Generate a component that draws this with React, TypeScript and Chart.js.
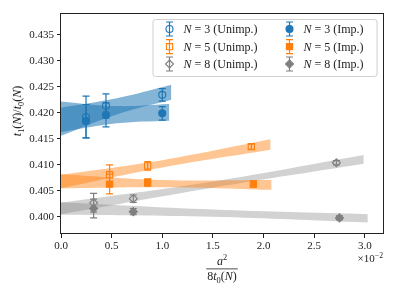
import React, { useEffect, useRef } from 'react';
import { Chart, registerables } from 'chart.js';
Chart.register(...registerables);

// ---------- data ----------
const xTicks = [0.0, 0.5, 1.0, 1.5, 2.0, 2.5, 3.0];
const yTicks = [0.400, 0.405, 0.410, 0.415, 0.420, 0.425, 0.430, 0.435];

const xN3U = [0.247, 0.444, 1.0];
const yN3U = [0.4192, 0.42135, 0.42346];
const eN3U = [0.0040, 0.0023, 0.0012];
const xN3I = [0.247, 0.444, 1.0];
const yN3I = [0.4184, 0.4196, 0.4199];
const eN3I = [0.0032, 0.0023, 0.0013];

const xN5U = [0.48, 0.856, 1.88];
const yN5U = [0.4081, 0.4098, 0.4135];
const eN5U = [0.0019, 0.0008, 0.0005];
const xN5I = [0.48, 0.856, 1.90];
const yN5I = [0.4063, 0.4066, 0.4063];
const eN5I = [0.0019, 0.0007, 0.0006];

const xN8U = [0.322, 0.714, 2.72];
const yN8U = [0.4027, 0.4035, 0.4104];
const eN8U = [0.0018, 0.0007, 0.0004];
const xN8I = [0.322, 0.714, 2.75];
const yN8I = [0.4016, 0.4010, 0.3998];
const eN8I = [0.0018, 0.0006, 0.0004];

// fit bands
const bN3U_x = [0, 0.55, 1.09];
const bN3U_lo = [0.4156, 0.4197, 0.4225];
const bN3U_hi = [0.4210, 0.4228, 0.4254];
const bN3I_x = [0, 0.55, 1.07];
const bN3I_lo = [0.4163, 0.4180, 0.4185];
const bN3I_hi = [0.4222, 0.4213, 0.4217];

const bN5U_x = [0, 1.0, 2.07];
const bN5U_lo = [0.4055, 0.4095, 0.4129];
const bN5U_hi = [0.4081, 0.4109, 0.4149];
const bN5I_x = [0, 1.0, 2.08];
const bN5I_lo = [0.4055, 0.4057, 0.4052];
const bN5I_hi = [0.4082, 0.4071, 0.4071];

const bN8U_x = [0, 1.5, 2.99];
const bN8U_lo = [0.4005, 0.4056, 0.4102];
const bN8U_hi = [0.4027, 0.4068, 0.4119];
const bN8I_x = [0, 1.5, 3.03];
const bN8I_lo = [0.4004, 0.4000, 0.3989];
const bN8I_hi = [0.4028, 0.4014, 0.4005];

// ---------- styles ----------
const BLUE = '#1f77b4';
const ORANGE = '#ff7f0e';
const GRAY = '#7f7f7f';
const FONT = '"Liberation Serif", "DejaVu Serif", serif';

type Piece = { t: string; it?: boolean; sub?: boolean; sup?: boolean };

function setFont(ctx: CanvasRenderingContext2D, p: Piece, size: number) {
  const s = p.sub || p.sup ? size * 0.7 : size;
  ctx.font = `${p.it ? 'italic ' : ''}${s}px ${FONT}`;
}
function richWidth(ctx: CanvasRenderingContext2D, pieces: Piece[], size: number) {
  let w = 0;
  for (const p of pieces) { setFont(ctx, p, size); w += ctx.measureText(p.t).width; }
  return w;
}
function drawRich(ctx: CanvasRenderingContext2D, pieces: Piece[], x: number, y: number, size: number, align: 'left' | 'center' | 'right') {
  const w = richWidth(ctx, pieces, size);
  let cx = align === 'left' ? x : align === 'center' ? x - w / 2 : x - w;
  ctx.textAlign = 'left';
  ctx.textBaseline = 'alphabetic';
  for (const p of pieces) {
    setFont(ctx, p, size);
    const dy = p.sub ? size * 0.22 : p.sup ? -size * 0.38 : 0;
    ctx.fillText(p.t, cx, y + dy);
    cx += ctx.measureText(p.t).width;
  }
  return w;
}

function drawMarker(ctx: CanvasRenderingContext2D, style: string, x: number, y: number, r: number, color: string, filled: boolean) {
  ctx.beginPath();
  if (style === 'circle') ctx.arc(x, y, r, 0, Math.PI * 2);
  else if (style === 'rect') { const s = r * Math.SQRT1_2; ctx.rect(x - s, y - s, 2 * s, 2 * s); }
  else { ctx.moveTo(x, y - r); ctx.lineTo(x + r, y); ctx.lineTo(x, y + r); ctx.lineTo(x - r, y); ctx.closePath(); }
  ctx.lineWidth = 1.1;
  ctx.strokeStyle = color;
  if (filled) { ctx.fillStyle = color; ctx.fill(); }
  ctx.stroke();
}

type Series = { xs: number[]; ys: number[]; es: number[]; color: string; style: string; r: number; filled: boolean; label: Piece[] };

const series: Series[] = [
  { xs: xN3U, ys: yN3U, es: eN3U, color: BLUE, style: 'circle', r: 3.5, filled: false, label: [{ t: 'N', it: true }, { t: ' = 3 (Unimp.)' }] },
  { xs: xN5U, ys: yN5U, es: eN5U, color: ORANGE, style: 'rect', r: 4.4, filled: false, label: [{ t: 'N', it: true }, { t: ' = 5 (Unimp.)' }] },
  { xs: xN8U, ys: yN8U, es: eN8U, color: GRAY, style: 'rectRot', r: 4, filled: false, label: [{ t: 'N', it: true }, { t: ' = 8 (Unimp.)' }] },
  { xs: xN3I, ys: yN3I, es: eN3I, color: BLUE, style: 'circle', r: 3.5, filled: true, label: [{ t: 'N', it: true }, { t: ' = 3 (Imp.)' }] },
  { xs: xN5I, ys: yN5I, es: eN5I, color: ORANGE, style: 'rect', r: 4.4, filled: true, label: [{ t: 'N', it: true }, { t: ' = 5 (Imp.)' }] },
  { xs: xN8I, ys: yN8I, es: eN8I, color: GRAY, style: 'rectRot', r: 4, filled: true, label: [{ t: 'N', it: true }, { t: ' = 8 (Imp.)' }] },
];

const bands = [
  { x: bN3U_x, lo: bN3U_lo, hi: bN3U_hi, fill: 'rgba(31,119,180,0.55)' },
  { x: bN3I_x, lo: bN3I_lo, hi: bN3I_hi, fill: 'rgba(31,119,180,0.55)' },
  { x: bN5U_x, lo: bN5U_lo, hi: bN5U_hi, fill: 'rgba(255,127,14,0.45)' },
  { x: bN5I_x, lo: bN5I_lo, hi: bN5I_hi, fill: 'rgba(255,127,14,0.45)' },
  { x: bN8U_x, lo: bN8U_lo, hi: bN8U_hi, fill: 'rgba(127,127,127,0.35)' },
  { x: bN8I_x, lo: bN8I_lo, hi: bN8I_hi, fill: 'rgba(127,127,127,0.35)' },
];

export default function App() {
  const ref = useRef<HTMLCanvasElement>(null);
  useEffect(() => {
    const canvas = ref.current!;
    const datasets: any[] = [];
    series.forEach((s) => {
      datasets.push({
        type: 'scatter',
        data: s.xs.map((x, i) => ({ x, y: s.ys[i] })),
        pointStyle: s.style,
        pointRadius: s.r,
        borderColor: s.color,
        backgroundColor: s.filled ? s.color : 'rgba(0,0,0,0)',
        borderWidth: 1.1,
        showLine: false,
        order: 0,
      });
    });
    const firstBand = datasets.length;
    bands.forEach((b) => {
      datasets.push({
        type: 'line',
        data: b.x.map((x, i) => ({ x, y: b.lo[i] })),
        borderWidth: 0, pointRadius: 0, fill: false, order: 1, tension: 0.4,
        borderColor: 'rgba(0,0,0,0)',
      });
      datasets.push({
        type: 'line',
        data: b.x.map((x, i) => ({ x, y: b.hi[i] })),
        borderWidth: 0, pointRadius: 0, fill: '-1', backgroundColor: b.fill, order: 1, tension: 0.4,
        borderColor: 'rgba(0,0,0,0)',
      });
    });

    const errPlugin = {
      id: 'errbars',
      afterDatasetDraw(chart: any, args: any) {
        if (args.index !== firstBand) return;
        const ctx = chart.ctx as CanvasRenderingContext2D;
        const xs = chart.scales.x, ys = chart.scales.y;
        ctx.save();
        series.forEach((s) => {
          ctx.strokeStyle = s.color;
          ctx.lineWidth = 1.2;
          s.xs.forEach((xv, i) => {
            const px = xs.getPixelForValue(xv);
            const a = ys.getPixelForValue(s.ys[i] + s.es[i]);
            const b = ys.getPixelForValue(s.ys[i] - s.es[i]);
            ctx.beginPath();
            ctx.moveTo(px, a); ctx.lineTo(px, b);
            ctx.moveTo(px - 3.5, a); ctx.lineTo(px + 3.5, a);
            ctx.moveTo(px - 3.5, b); ctx.lineTo(px + 3.5, b);
            ctx.stroke();
          });
        });
        ctx.restore();
      },
    };

    const decoPlugin = {
      id: 'deco',
      afterDraw(chart: any) {
        const ctx = chart.ctx as CanvasRenderingContext2D;
        const ca = chart.chartArea;
        ctx.save();
        // frame
        ctx.strokeStyle = '#222';
        ctx.lineWidth = 1;
        ctx.strokeRect(Math.round(ca.left) - 0.5, Math.round(ca.top) + 0.5, Math.round(ca.right - ca.left) + 1, Math.round(ca.bottom - ca.top) - 1);
        ctx.fillStyle = '#222';
        // y label
        ctx.save();
        ctx.translate(17, 111);
        ctx.rotate(-Math.PI / 2);
        drawRich(ctx, [
          { t: 't', it: true }, { t: '1', sub: true }, { t: '(' }, { t: 'N', it: true }, { t: ')/' },
          { t: 't', it: true }, { t: '0', sub: true }, { t: '(' }, { t: 'N', it: true }, { t: ')' },
        ], 0, 4, 12, 'center');
        ctx.restore();
        // x label (fraction)
        const cx = (ca.left + ca.right) / 2;
        drawRich(ctx, [{ t: 'a', it: true }, { t: '2', sup: true }], cx, 265, 12, 'center');
        const den: Piece[] = [{ t: '8' }, { t: 't', it: true }, { t: '0', sub: true }, { t: '(' }, { t: 'N', it: true }, { t: ')' }];
        const dw = richWidth(ctx, den, 12);
        ctx.fillRect(cx - dw / 2 - 1, 268.5, dw + 2, 0.8);
        drawRich(ctx, den, cx, 280, 12, 'center');
        // x multiplier
        drawRich(ctx, [{ t: '×10' }, { t: '−2', sup: true }], ca.right, 262, 11, 'right');
        // legend
        const lx = 152.5, ly = 19, lw = 224, lh = 57;
        ctx.beginPath();
        (ctx as any).roundRect(lx + 0.5, ly + 0.5, lw, lh, 2.5);
        ctx.fillStyle = 'rgba(255,255,255,0.85)';
        ctx.fill();
        ctx.strokeStyle = '#d0d0d0';
        ctx.lineWidth = 1;
        ctx.stroke();
        const rowsY = [29, 46.7, 64];
        const colMX = [169.5, 289.5];
        const colTX = [183.5, 303.5];
        series.forEach((s, i) => {
          const col = Math.floor(i / 3), row = i % 3;
          const mx = colMX[col], my = rowsY[row];
          ctx.strokeStyle = s.color;
          ctx.lineWidth = 1.2;
          ctx.beginPath();
          ctx.moveTo(mx, my - 7); ctx.lineTo(mx, my + 7);
          ctx.moveTo(mx - 3.5, my - 7); ctx.lineTo(mx + 3.5, my - 7);
          ctx.moveTo(mx - 3.5, my + 7); ctx.lineTo(mx + 3.5, my + 7);
          ctx.stroke();
          drawMarker(ctx, s.style, mx, my, s.style === 'rect' ? 4.4 : s.r, s.color, s.filled);
          ctx.fillStyle = '#222';
          drawRich(ctx, s.label, colTX[col], my + 4, 12, 'left');
        });
        ctx.restore();
      },
    };

    const tickFont = { family: FONT, size: 11 };
    const chart = new Chart(canvas, {
      type: 'scatter',
      data: { datasets },
      options: {
        animation: false,
        responsive: false,
        devicePixelRatio: 1,
        layout: { padding: { top: 13, right: 13, left: 0, bottom: 0 } },
        plugins: { legend: { display: false }, tooltip: { enabled: false } },
        scales: {
          x: {
            type: 'linear', min: 0, max: 3.18,
            afterBuildTicks: (s: any) => { s.ticks = xTicks.map((v) => ({ value: v })); },
            afterFit: (s: any) => { s.height = 63; },
            ticks: { font: tickFont, color: '#222', padding: 2, maxRotation: 0, autoSkip: false, callback: (v: any) => Number(v).toFixed(1) },
            grid: { display: true, drawOnChartArea: false, drawTicks: true, tickLength: 4, tickColor: '#222', tickWidth: 1 },
            border: { display: false },
          },
          y: {
            type: 'linear', min: 0.3967, max: 0.4392,
            afterBuildTicks: (s: any) => { s.ticks = yTicks.map((v) => ({ value: v })); },
            afterFit: (s: any) => { s.width = 61; },
            ticks: { font: tickFont, color: '#222', padding: 3, autoSkip: false, callback: (v: any) => Number(v).toFixed(3) },
            grid: { display: true, drawOnChartArea: false, drawTicks: true, tickLength: 4, tickColor: '#222', tickWidth: 1 },
            border: { display: false },
          },
        },
      } as any,
      plugins: [errPlugin, decoPlugin],
    });
    return () => chart.destroy();
  }, []);
  return (
    <div style={{ position: 'absolute', left: 0, top: 0, width: 396, height: 297, background: '#fff' }}>
      <canvas ref={ref} width={396} height={297} style={{ display: 'block', width: 396, height: 297 }} />
    </div>
  );
}
